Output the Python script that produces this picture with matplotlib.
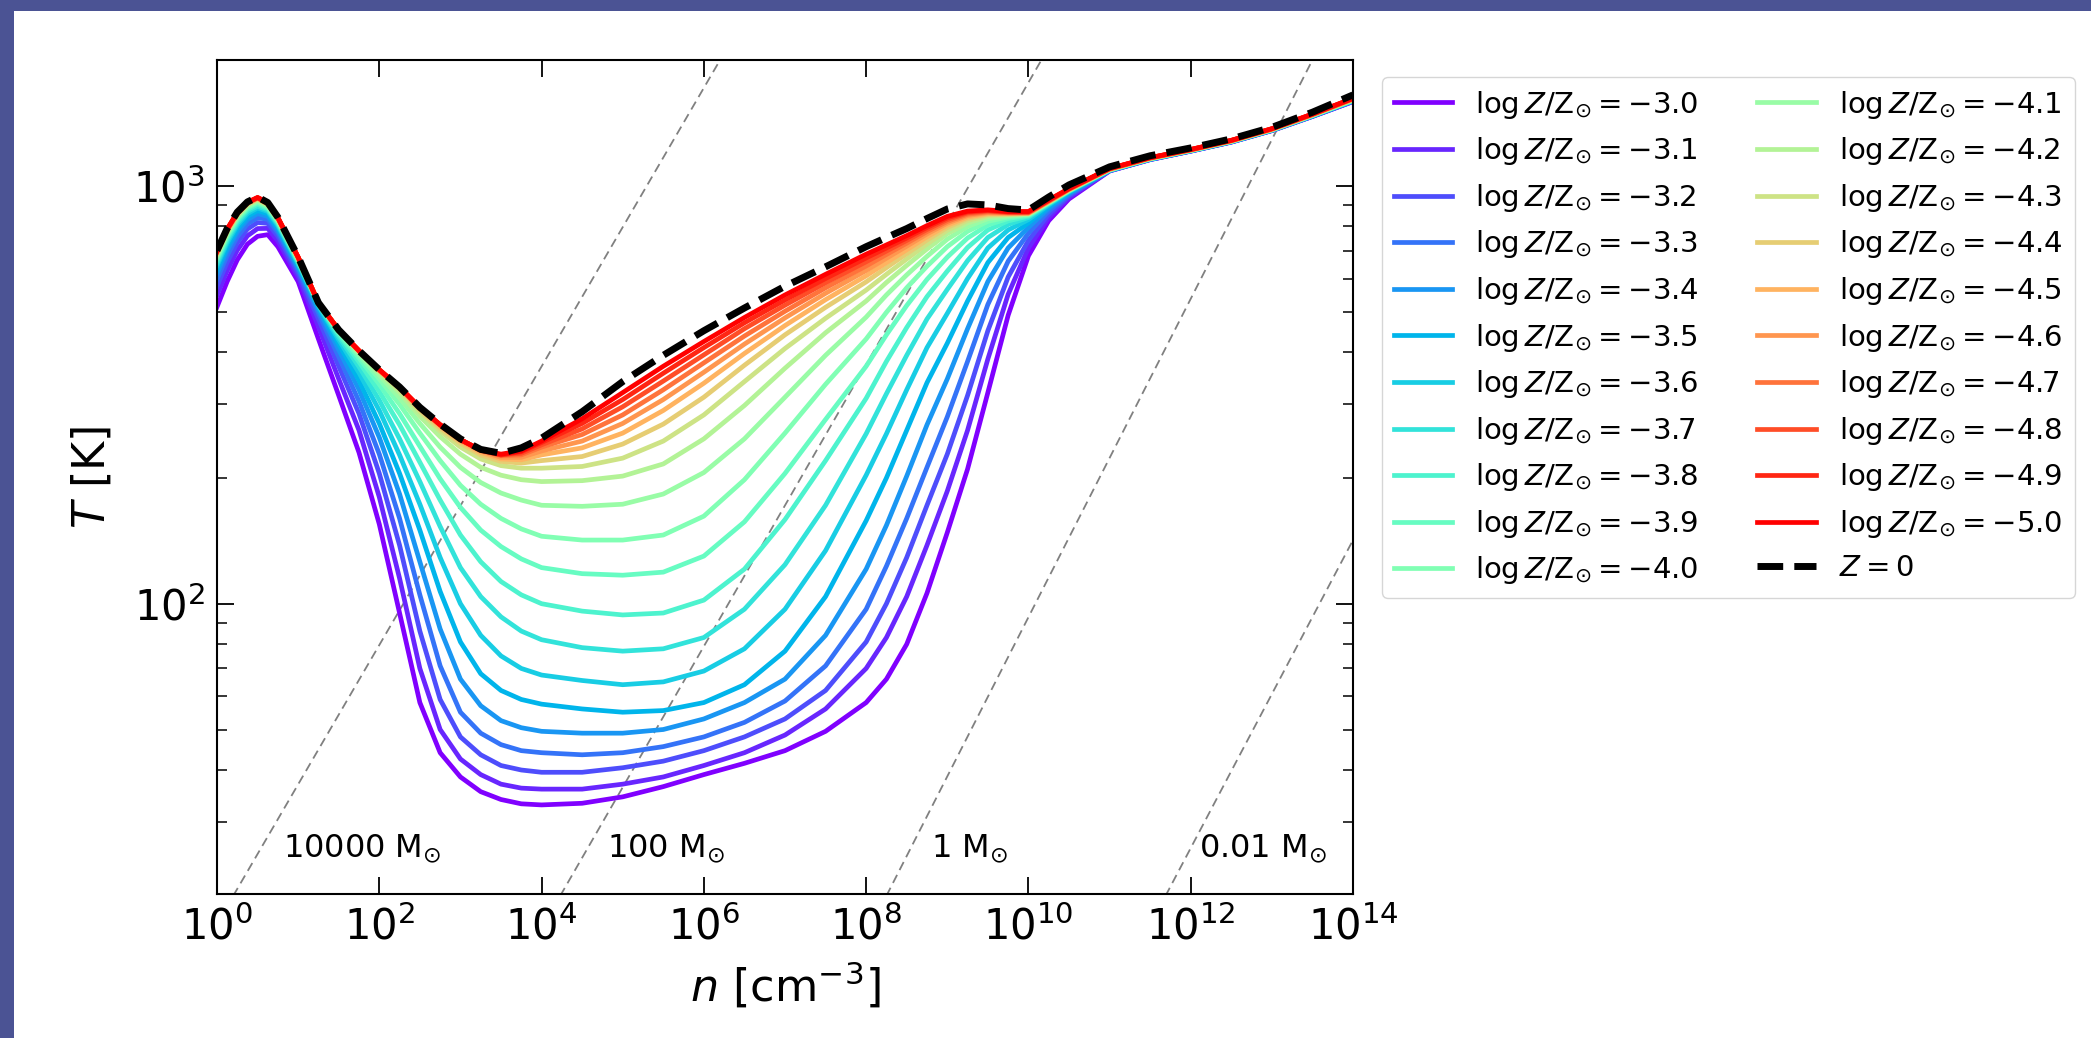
import matplotlib
matplotlib.use('Agg')
import matplotlib.pyplot as plt
import numpy as np
from matplotlib.patches import Rectangle
from matplotlib.ticker import NullLocator, NullFormatter

# density grid (log10 n [cm^-3]) shared by all tracks
LOG_N = [0, 0.125, 0.25, 0.375, 0.5, 0.625, 0.75, 1.0,
         1.25, 1.5, 1.75, 2.0, 2.25, 2.5, 2.75, 3.0, 3.25, 3.5, 3.75, 4.0,
         4.5, 5.0, 5.5, 6.0, 6.5, 7.0, 7.5, 8.0,
         8.25, 8.5, 8.75, 9.0, 9.25, 9.5, 9.75, 10.0, 10.25, 10.5,
         11.0, 11.5, 12.0, 12.5, 13.0, 13.5, 14.0]

# temperature [K] of each track
T_Z0 = [700, 790, 865, 915, 940, 912, 841, 676,
        525, 452, 403, 363, 330, 295, 269, 248, 234, 229, 236, 249,
        288, 340, 393, 450, 510, 575, 640, 715,
        752, 790, 835, 880, 905, 900, 882, 875, 940, 1005,
        1110, 1180, 1232, 1295, 1380, 1500, 1650]

T_m30 = [513, 590, 665, 725, 757, 764, 715, 590,
         430, 315, 230, 155, 95, 58, 44, 38.5, 35.5, 34, 33.2, 33,
         33.3, 34.5, 36.5, 39, 41.5, 44.5, 49.5, 58,
         66, 80, 106, 148, 210, 320, 490, 680, 825, 930,
         1085, 1155, 1210, 1272, 1355, 1465, 1590]
T_m31 = [547, 626, 701, 759, 790, 791, 738, 606,
         460, 345, 260, 180, 115, 70, 50, 42.5, 39, 37, 36.2, 36,
         36, 37, 38.5, 41, 44, 48.5, 56, 70,
         83, 104, 138, 186, 260, 385, 550, 710, 840, 938,
         1086, 1156, 1211, 1273, 1356, 1466, 1592]
T_m32 = [575, 656, 731, 788, 817, 813, 757, 618,
         480, 370, 285, 205, 138, 86, 59, 48, 43.5, 41, 40, 39.5,
         39.5, 40.5, 42, 44.5, 48, 53, 62, 81,
         100, 129, 172, 228, 315, 450, 605, 740, 855, 946,
         1087, 1156, 1211, 1273, 1357, 1467, 1593]
T_m33 = [597, 680, 755, 811, 839, 831, 772, 629,
         495, 390, 305, 228, 160, 105, 71, 55, 49, 46, 44.5, 44,
         43.5, 44, 45.5, 48, 52, 58.5, 71, 97,
         123, 160, 212, 280, 380, 520, 660, 770, 870, 953,
         1087, 1157, 1212, 1274, 1357, 1468, 1595]
T_m34 = [616, 700, 775, 830, 858, 845, 784, 637,
         505, 405, 325, 250, 183, 126, 87, 66, 57, 52.5, 50.5, 49.5,
         49, 49, 50, 53, 58, 66, 84, 121,
         154, 202, 268, 345, 455, 590, 710, 795, 883, 959,
         1088, 1158, 1212, 1275, 1358, 1469, 1596]
T_m35 = [631, 716, 791, 845, 872, 857, 794, 644,
         512, 418, 342, 270, 205, 150, 107, 81, 68, 62, 59, 57.5,
         56, 55, 55.5, 58, 64, 77, 104, 158,
         200, 260, 338, 420, 530, 655, 752, 815, 893, 964,
         1089, 1158, 1213, 1275, 1359, 1470, 1598]
T_m36 = [644, 730, 805, 858, 885, 868, 803, 650,
         516, 428, 357, 290, 227, 173, 129, 100, 84, 75, 70, 67.5,
         65.5, 64, 65, 69, 78, 97, 134, 203,
         255, 325, 410, 495, 600, 710, 784, 830, 900, 968,
         1090, 1159, 1214, 1276, 1360, 1471, 1599]
T_m37 = [653, 740, 815, 868, 894, 875, 810, 655,
         519, 435, 369, 307, 248, 196, 153, 122, 104, 93, 86, 82,
         78.5, 77, 78, 83, 97, 124, 172, 255,
         318, 393, 480, 565, 662, 752, 808, 840, 905, 971,
         1090, 1160, 1214, 1277, 1360, 1472, 1600]
T_m38 = [663, 750, 825, 877, 903, 882, 816, 659,
         521, 441, 379, 322, 268, 218, 177, 146, 126, 113, 105, 100,
         96, 94, 95, 102, 121, 159, 220, 310,
         380, 458, 543, 625, 712, 784, 824, 846, 908, 973,
         1091, 1160, 1215, 1277, 1361, 1473, 1602]
T_m39 = [670, 758, 833, 885, 911, 888, 821, 662,
         522, 445, 387, 335, 285, 238, 199, 170, 150, 137, 128, 122,
         118, 117, 119, 130, 157, 205, 276, 370,
         440, 517, 597, 675, 750, 806, 835, 850, 910, 974,
         1092, 1161, 1215, 1278, 1362, 1474, 1604]
T_m40 = [676, 764, 839, 890, 916, 893, 825, 665,
         523, 448, 393, 345, 300, 256, 220, 192, 173, 160, 151, 145,
         142, 142, 146, 162, 198, 256, 335, 430,
         498, 570, 642, 715, 778, 822, 842, 853, 912, 975,
         1093, 1162, 1216, 1279, 1363, 1475, 1605]
T_m41 = [681, 770, 845, 896, 922, 897, 828, 667,
         524, 450, 397, 352, 311, 270, 237, 212, 195, 184, 177, 172,
         171, 173, 183, 206, 248, 312, 393, 485,
         548, 612, 678, 745, 799, 834, 847, 855, 913, 976,
         1093, 1162, 1217, 1279, 1363, 1476, 1607]
T_m42 = [685, 774, 849, 900, 925, 900, 831, 669,
         524, 451, 400, 357, 320, 281, 251, 228, 212, 203, 198, 196,
         197, 202, 216, 248, 298, 366, 445, 530,
         587, 645, 706, 768, 815, 843, 851, 857, 914, 977,
         1094, 1163, 1217, 1280, 1364, 1477, 1608]
T_m43 = [688, 777, 852, 903, 928, 902, 833, 670,
         525, 451, 401, 360, 325, 288, 259, 237, 222, 214, 211, 211,
         213, 223, 245, 283, 340, 408, 482, 563,
         614, 668, 726, 783, 826, 849, 854, 858, 915, 978,
         1095, 1163, 1218, 1280, 1365, 1478, 1610]
T_m44 = [691, 780, 855, 906, 931, 905, 835, 672,
         525, 452, 402, 361, 327, 291, 263, 242, 227, 219, 217, 220,
         225, 241, 269, 312, 372, 440, 512, 589,
         637, 688, 742, 795, 835, 854, 856, 859, 916, 979,
         1096, 1164, 1218, 1281, 1366, 1479, 1611]
T_m45 = [693, 782, 857, 907, 933, 906, 836, 673,
         525, 452, 402, 362, 328, 293, 266, 245, 230, 222, 221, 227,
         236, 256, 290, 337, 397, 463, 534, 609,
         655, 703, 755, 805, 842, 858, 858, 860, 917, 980,
         1096, 1165, 1219, 1282, 1366, 1480, 1612]
T_m46 = [694, 784, 859, 909, 935, 908, 837, 673,
         525, 452, 403, 362, 329, 294, 267, 246, 232, 224, 224, 232,
         245, 270, 308, 358, 418, 483, 553, 627,
         671, 717, 767, 814, 849, 862, 860, 861, 918, 981,
         1097, 1165, 1220, 1282, 1367, 1481, 1614]
T_m47 = [695, 785, 860, 910, 935, 908, 838, 674,
         525, 452, 403, 362, 329, 294, 268, 247, 233, 226, 227, 237,
         254, 283, 325, 377, 437, 501, 570, 643,
         685, 729, 777, 822, 855, 866, 862, 862, 919, 982,
         1098, 1166, 1220, 1283, 1368, 1482, 1616]
T_m48 = [696, 786, 861, 911, 936, 909, 838, 674,
         525, 452, 403, 363, 329, 294, 268, 247, 233, 227, 229, 240,
         262, 296, 341, 394, 455, 518, 586, 658,
         698, 740, 786, 830, 861, 870, 864, 864, 921, 983,
         1099, 1167, 1221, 1284, 1369, 1483, 1617]
T_m49 = [697, 787, 862, 912, 937, 910, 839, 675,
         525, 452, 403, 363, 330, 295, 268, 247, 233, 227, 231, 243,
         270, 308, 356, 410, 470, 533, 600, 672,
         710, 750, 795, 838, 866, 873, 866, 866, 923, 984,
         1099, 1167, 1221, 1284, 1369, 1484, 1618]
T_m50 = [698, 788, 863, 913, 938, 911, 840, 675,
         525, 452, 403, 363, 330, 295, 268, 247, 233, 228, 232, 245,
         277, 320, 370, 424, 484, 548, 614, 686,
         722, 760, 803, 845, 870, 876, 868, 868, 925, 985,
         1100, 1168, 1222, 1285, 1370, 1485, 1620]

LOG_Z = [-3.0, -3.1, -3.2, -3.3, -3.4, -3.5, -3.6, -3.7, -3.8, -3.9, -4.0,
         -4.1, -4.2, -4.3, -4.4, -4.5, -4.6, -4.7, -4.8, -4.9, -5.0]
TRACKS = [T_m30, T_m31, T_m32, T_m33, T_m34, T_m35, T_m36, T_m37, T_m38, T_m39, T_m40,
          T_m41, T_m42, T_m43, T_m44, T_m45, T_m46, T_m47, T_m48, T_m49, T_m50]

# Jeans-mass guide lines: (log n, T) end points
MJ_LABELS = ['10000', '100', '1', '0.01']
MJ_LOGN = [[0.2, 6.2], [4.23, 10.16], [8.25, 13.5], [11.69, 14.0]]
MJ_T = [[20, 2000], [20, 2000], [20, 2000], [20, 142]]
MJ_TEXT_LOGN = [0.81, 4.81, 8.8, 12.1]

W, H = 2091, 1038
fig = plt.figure(figsize=(W / 100, H / 100), dpi=100)
fig.patch.set_facecolor('#4b5394')
fig.add_artist(Rectangle((14 / W, 0), 1, 1 - 11 / H, transform=fig.transFigure,
                         facecolor='white', edgecolor='none', zorder=-10))

ax = fig.add_axes([217 / W, 1 - 894 / H, (1353 - 217) / W, (894 - 60) / H])
ax.set_xscale('log')
ax.set_yscale('log')

n = 10.0 ** np.array(LOG_N)

for lab, xs, ts, xt in zip(MJ_LABELS, MJ_LOGN, MJ_T, MJ_TEXT_LOGN):
    ax.plot(10.0 ** np.array(xs), ts, color='gray', lw=1.3, dashes=(5, 3), zorder=1)
    ax.text(10.0 ** xt, 26, lab + r' M$_{\odot}$', fontsize=23, va='center', ha='left')

colors = plt.cm.rainbow(np.linspace(0, 1, len(LOG_Z)))
for z, t, c in zip(LOG_Z, TRACKS, colors):
    ax.plot(n, t, color=c, lw=3.4, solid_joinstyle='round',
            label=r'$\log Z/\mathrm{Z}_{\odot} = %.1f$' % z, zorder=2)
ax.plot(n, T_Z0, color='black', lw=5, ls='--', label=r'$Z = 0$', zorder=3)

ax.set_xlim(1, 1e14)
ax.set_ylim(20.2, 2000)
ax.set_xticks([10.0 ** p for p in range(0, 15, 2)])
ax.xaxis.set_minor_locator(NullLocator())
ax.yaxis.set_minor_formatter(NullFormatter())
ax.tick_params(which='both', direction='in', top=True, right=True, labelsize=30, pad=9)
ax.tick_params(which='major', length=12, width=1.3)
ax.tick_params(which='minor', length=7, width=1.1)
for s in ax.spines.values():
    s.set_linewidth(1.5)

ax.set_xlabel(r'$n$ [cm$^{-3}$]', fontsize=32, labelpad=8)
ax.set_ylabel(r'$T$ [K]', fontsize=32, labelpad=14)

ax.legend(ncol=2, fontsize=21, loc='upper left', bbox_to_anchor=(1382 / W, 1 - 77 / H),
          bbox_transform=fig.transFigure, borderaxespad=0, handlelength=2.0,
          columnspacing=2.0, labelspacing=0.5)

fig.savefig('out.png', dpi=100, facecolor=fig.get_facecolor())
